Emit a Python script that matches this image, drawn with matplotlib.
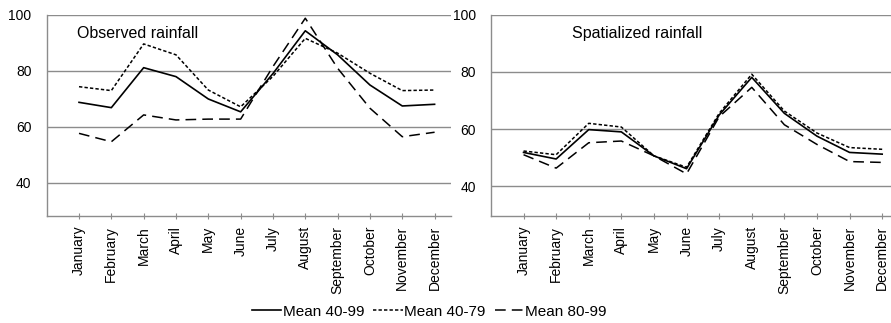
import matplotlib
matplotlib.use("Agg")
import matplotlib.pyplot as plt
from matplotlib import font_manager

# Rainfall by month, observed vs spatialized

months = ["January", "February", "March", "April", "May", "June", "July",
          "August", "September", "October", "November", "December"]

obs_40_99 = [68.7, 66.8, 81.1, 77.9, 69.9, 65.3, 79.0, 94.3, 85.7, 74.9, 67.4, 68.0]
obs_40_79 = [74.3, 72.9, 89.6, 85.7, 73.1, 67.1, 78.0, 91.6, 86.3, 79.1, 72.9, 73.1]
obs_80_99 = [57.6, 54.6, 64.2, 62.4, 62.7, 62.7, 81.5, 98.8, 80.9, 66.6, 56.4, 58.0]

spa_40_99 = [51.8, 49.5, 59.8, 59.0, 50.6, 46.1, 64.9, 78.1, 65.5, 57.5, 51.8, 51.2]
spa_40_79 = [52.3, 51.0, 62.0, 60.7, 50.6, 46.6, 65.5, 79.2, 66.3, 58.6, 53.5, 52.9]
spa_80_99 = [51.0, 46.3, 55.2, 55.8, 50.6, 44.3, 64.3, 74.6, 61.5, 54.6, 48.6, 48.3]

yticks = [40, 60, 80, 100]

plt.rcParams["font.family"] = ["Liberation Sans", "DejaVu Sans"]
installed = {f.name for f in font_manager.fontManager.ttflist}
narrow = "Liberation Sans Narrow" if "Liberation Sans Narrow" in installed else "Liberation Sans"
leg_size = 12 if narrow == "Liberation Sans Narrow" else 11

fig = plt.figure(figsize=(8.91, 3.23), dpi=100)
ax1 = fig.add_axes([0.0524, 0.331, 0.4535, 0.623])
ax2 = fig.add_axes([0.551, 0.331, 0.4574, 0.623])

grey = "#8c8c8c"
styles = [dict(ls="-", lw=1.2), dict(ls=(0, (2.2, 1.4)), lw=1.1), dict(ls=(0, (7, 4)), lw=1.1)]
labels = ["Mean 40-99", "Mean 40-79", "Mean 80-99"]


def panel(ax, series, title, ymin, tx):
    x = range(len(months))
    for s, st, lab in zip(series, styles, labels):
        ax.plot(x, s, color="black", label=lab, **st)
    ax.set_xlim(-1, 11.5)
    ax.set_ylim(ymin, 100)
    ax.set_yticks(yticks)
    ax.set_xticks(list(x))
    ax.set_xticklabels(months, rotation=90, fontsize=10)
    ax.grid(axis="y", color=grey, lw=1)
    ax.set_axisbelow(True)
    for sp in ["top", "right"]:
        ax.spines[sp].set_visible(False)
    for sp in ["left", "bottom"]:
        ax.spines[sp].set_color(grey)
        ax.spines[sp].set_linewidth(1)
    ax.tick_params(axis="y", length=0, pad=11, labelsize=10)
    ax.tick_params(axis="x", direction="inout", length=4, color=grey, pad=5)
    ax.text(tx, 0.945, title, transform=ax.transAxes, fontsize=11.5, va="top")


panel(ax1, [obs_40_99, obs_40_79, obs_80_99], "Observed rainfall", 28, 0.076)
panel(ax2, [spa_40_99, spa_40_79, spa_80_99], "Spatialized rainfall", 29.5, 0.2)

h, l = ax1.get_legend_handles_labels()
fig.legend(h, l, loc="center", bbox_to_anchor=(0.482, 0.035), ncol=3,
           frameon=False, handlelength=1.9, handletextpad=0.1,
           columnspacing=0.6, prop={"family": narrow, "size": leg_size})

fig.savefig("out.png", dpi=100)
